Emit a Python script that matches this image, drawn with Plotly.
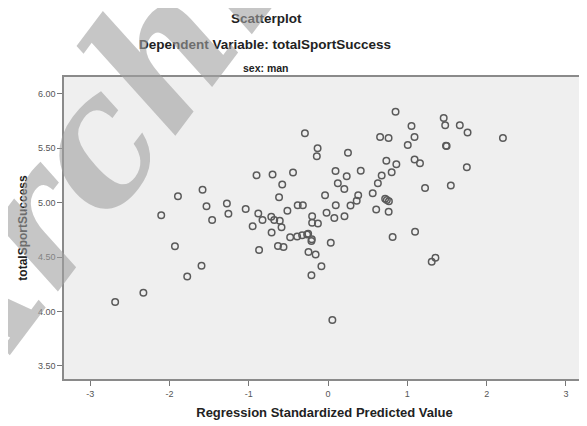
import plotly.graph_objects as go

# Regression standardized predicted value (x) and totalSportSuccess (y), sex: man
pred_std = [
    -2.685, -2.329, -2.104, -1.893, -1.931, -1.776, -1.596, -1.583, -1.533, -1.276,
    -1.257, -1.462, -1.039, -0.880, -0.827, -0.716, -0.679, -0.609, -0.513, -0.383,
    -0.318, -0.951, -0.587, -0.712, -0.478, -0.390, -0.327, -0.251, -0.264, -0.205,
    -0.201, -0.201, -0.128, -0.632, -0.562, -0.870, -0.247, -0.157, -0.210, -0.210,
    0.034, -0.084, 0.054, 1.307, 1.354, -0.292, -0.132, -0.142, -0.902, -0.700,
    -0.442, -0.578, -0.618, 0.251, 0.656, 0.763, 1.052, 1.090, 1.005, 0.094,
    0.235, 0.412, 0.123, 0.205, 0.735, 0.861, 0.802, 0.676, 0.628, 1.091,
    1.159, 1.223, -0.038, 0.380, 0.361, 0.283, 0.097, 0.563, 0.720, 0.741,
    0.767, 0.607, 0.764, -0.019, 0.079, 0.207, 0.814, 1.097, 0.851, 1.458,
    1.477, 1.661, 1.759, 2.205, 1.487, 1.495, 1.750, 1.548,
]
sport_success = [
    4.086, 4.172, 4.884, 5.058, 4.598, 4.322, 4.420, 5.119, 4.966, 4.992,
    4.898, 4.840, 4.942, 4.900, 4.840, 4.871, 4.840, 4.834, 4.925, 4.976,
    4.976, 4.783, 4.774, 4.725, 4.682, 4.689, 4.701, 4.714, 4.707, 4.663,
    4.875, 4.816, 4.808, 4.601, 4.592, 4.564, 4.546, 4.523, 4.332, 4.647,
    4.631, 4.415, 3.920, 4.457, 4.494, 5.638, 5.501, 5.427, 5.252, 5.259,
    5.277, 5.167, 5.050, 5.460, 5.604, 5.595, 5.705, 5.604, 5.530, 5.291,
    5.242, 5.294, 5.179, 5.126, 5.386, 5.353, 5.279, 5.250, 5.178, 5.397,
    5.362, 5.135, 5.068, 5.068, 5.018, 4.974, 4.976, 5.086, 5.036, 5.024,
    5.012, 4.937, 4.916, 4.908, 4.859, 4.875, 4.684, 4.732, 5.837, 5.779,
    5.712, 5.713, 5.645, 5.595, 5.524, 5.521, 5.325, 5.158,
]

x_ticks = [-3, -2, -1, 0, 1, 2, 3]
y_ticks = [3.5, 4.0, 4.5, 5.0, 5.5, 6.0]

title_main = "Scatterplot"
title_sub = "Dependent Variable: totalSportSuccess"
panel_label = "sex: man"
x_title = "Regression Standardized Predicted Value"
y_title = "totalSportSuccess"
watermark = "Archive"

# the page has an 8px body margin; compensate so the plot lands where the reference has it
OFF = 8
W, H = 587, 426
ML, MT = 64 - OFF, 77 - OFF
plot_w, plot_h = 523, 302
MR = W - ML - plot_w
MB = H - MT - plot_h

def px_to_paper_x(px):
    return (px - OFF - ML) / plot_w

def px_to_paper_y(py):
    return (MT + plot_h - (py - OFF)) / plot_h

fig = go.Figure()
fig.add_trace(go.Scatter(
    x=pred_std, y=sport_success, mode="markers",
    marker=dict(symbol="circle", size=6.5, color="rgba(0,0,0,0)",
                line=dict(color="#5a5a5a", width=1.5)),
    hoverinfo="x+y", showlegend=False,
))

axis_common = dict(
    showgrid=False, zeroline=False, showline=True, linecolor="#8a8a8a",
    linewidth=1.5, mirror=True, ticks="outside", ticklen=5, tickwidth=1,
    tickcolor="#777777", tickfont=dict(family="Liberation Sans, Arial", size=9, color="#555555"),
)

fig.update_layout(
    width=W, height=H,
    margin=dict(l=ML, r=MR, t=MT, b=MB),
    paper_bgcolor="white", plot_bgcolor="#efefef",
    xaxis=dict(range=[-3.33, 3.24], tickvals=x_ticks, ticktext=[str(v) for v in x_ticks],
               title=dict(text=f"<b>{x_title}</b>", standoff=10,
                          font=dict(family="Liberation Sans, Arial", size=13, color="#222222")),
               **axis_common),
    yaxis=dict(range=[3.378, 6.156], tickvals=y_ticks, ticktext=[f"{v:.2f}" for v in y_ticks],
               title=dict(text=f"<b>{y_title}</b>", standoff=8,
                          font=dict(family="Liberation Sans, Arial", size=12, color="#222222")),
               **axis_common),
    annotations=[
        dict(text=f"<b>{title_main}</b>", xref="paper", yref="paper",
             x=px_to_paper_x(267), y=px_to_paper_y(18), xanchor="center", yanchor="middle",
             showarrow=False, font=dict(family="Liberation Sans, Arial", size=13.5, color="#222222")),
        dict(text=f"<b>{title_sub}</b>", xref="paper", yref="paper",
             x=px_to_paper_x(266), y=px_to_paper_y(45), xanchor="center", yanchor="middle",
             showarrow=False, font=dict(family="Liberation Sans, Arial", size=13.5, color="#222222")),
        dict(text=f"<b>{panel_label}</b>", xref="paper", yref="paper",
             x=px_to_paper_x(267), y=px_to_paper_y(68), xanchor="center", yanchor="middle",
             showarrow=False, font=dict(family="Liberation Sans, Arial", size=10.5, color="#222222")),
        dict(text=f"<b><i>{watermark}</i></b>", xref="paper", yref="paper",
             x=px_to_paper_x(140), y=px_to_paper_y(80), xanchor="center", yanchor="middle",
             textangle=-53, showarrow=False,
             font=dict(family="DejaVu Serif", size=175, color="rgba(160,160,160,0.6)")),
    ],
)

fig.write_html("out.html")
